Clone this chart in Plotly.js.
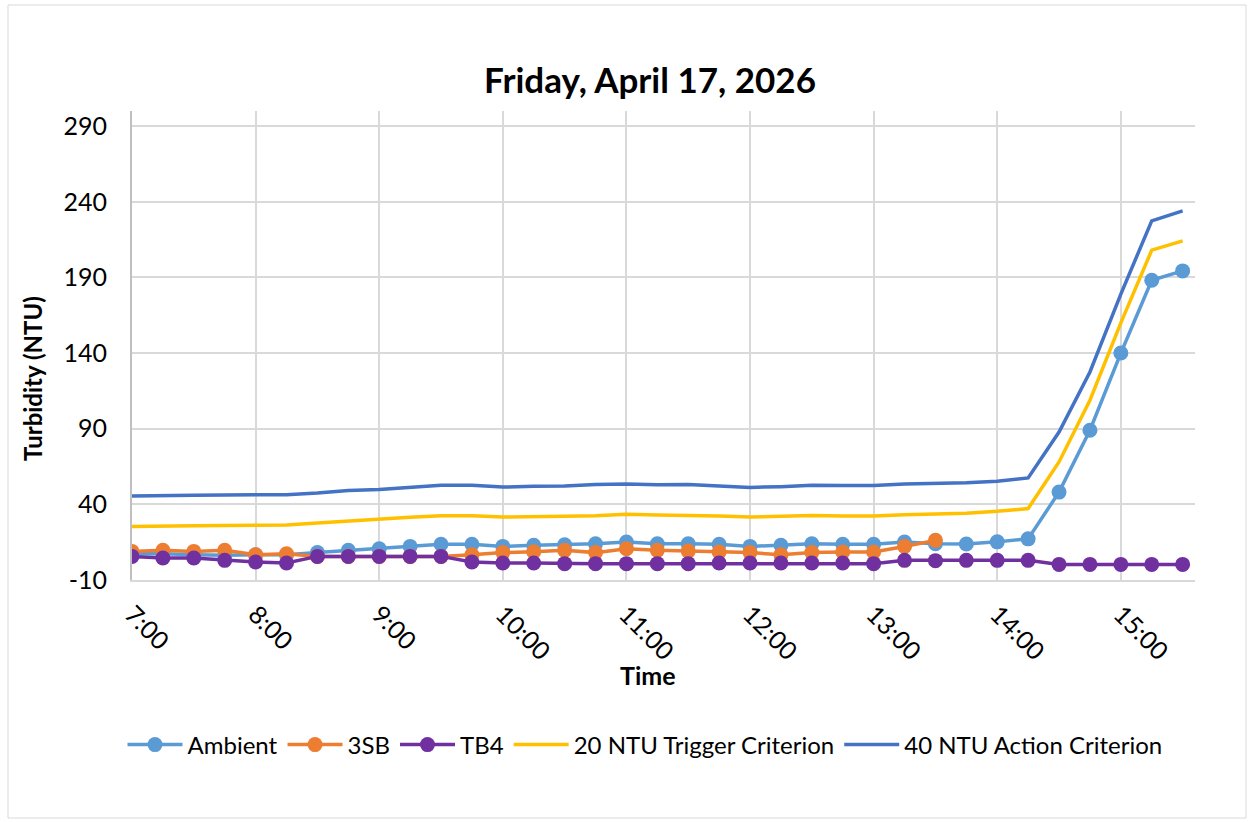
<!DOCTYPE html>
<html>
<head>
<meta charset="utf-8">
<script src="https://cdn.plot.ly/plotly-3.0.1.min.js"></script>
<style>
  html, body { margin: 0; padding: 0; background: #ffffff; }
  #chart { width: 1253px; height: 823px; }
</style>
</head>
<body>
<div id="chart"></div>
<script>
// ---- Data ----
const chartDate = "2026-04-17";
const times = ["7:00","7:15","7:30","7:45","8:00","8:15","8:30","8:45","9:00","9:15","9:30","9:45",
  "10:00","10:15","10:30","10:45","11:00","11:15","11:30","11:45","12:00","12:15","12:30","12:45",
  "13:00","13:15","13:30","13:45","14:00","14:15","14:30","14:45","15:00","15:15","15:30"];

const ambient = [7.4, 7.4, 6.7, 6.3, 6.7, 6.7, 8.1, 9.6, 10.7, 12.2, 13.6, 13.6, 12.2, 12.9, 13.3, 14.0,
  15.1, 14.0, 14.0, 13.6, 12.2, 12.9, 14.0, 13.6, 13.6, 15.1, 14.0, 13.8, 15.2, 17.2, 48.1, 89.0,
  140.0, 188.1, 194.3];

const sb3 = [8.9, 9.6, 8.9, 9.6, 6.7, 7.4, 5.6, 5.6, 5.6, 5.6, 5.6, 6.7, 8.1, 8.7, 9.6, 8.1, 10.7,
  9.6, 9.1, 8.5, 8.1, 6.7, 8.1, 8.5, 8.5, 12.2, 16.2];

const tb4 = [5.6, 4.5, 4.5, 3.0, 1.9, 1.2, 5.6, 5.6, 5.6, 5.6, 5.6, 1.9, 1.2, 1.2, 0.8, 0.8, 0.8, 0.8,
  0.8, 1.2, 1.2, 1.2, 1.2, 1.2, 0.8, 3.0, 2.8, 3.0, 3.0, 3.0, 0.3, 0.3, 0.3, 0.3, 0.3];

const trigger20 = [25.4, 25.4, 25.9, 26.1, 26.3, 26.3, 27.6, 29.0, 29.9, 31.4, 32.5, 32.5, 31.6, 32.1,
  32.1, 32.5, 33.4, 32.9, 32.7, 32.3, 31.6, 32.1, 32.7, 32.3, 32.3, 33.2, 33.6, 34.2, 35.4, 37.2,
  68.0, 108.8, 160.0, 208.0, 214.2];

const action40 = [45.5, 45.5, 46.0, 46.2, 46.4, 46.4, 47.5, 49.1, 49.9, 51.4, 52.6, 52.6, 51.4, 51.9,
  52.1, 53.1, 53.4, 53.0, 53.1, 52.1, 51.2, 51.7, 52.6, 52.4, 52.4, 53.4, 53.7, 54.2, 55.2, 57.5,
  87.8, 127.5, 179.0, 227.4, 234.0];

const seriesNames = ["Ambient", "3SB", "TB4", "20 NTU Trigger Criterion", "40 NTU Action Criterion"];
const xTickLabels = ["7:00","8:00","9:00","10:00","11:00","12:00","13:00","14:00","15:00"];
const yTickVals = [-10, 40, 90, 140, 190, 240, 290];

const chartTitle = "Friday, April 17, 2026";
const xTitle = "Time";
const yTitle = "Turbidity (NTU)";

// ---- Helpers ----
const toStamp = t => `${chartDate} ${t.padStart(5, "0")}`;
const xAll = times.map(toStamp);
const xSb3 = times.slice(0, sb3.length).map(toStamp);

const FONT = "Lato, 'Noto Sans', sans-serif";
const C = {
  ambient: "#5B9BD5",
  sb3: "#ED7D31",
  tb4: "#7030A0",
  trig: "#FFC000",
  act: "#4472C4"
};

function mk(name, x, y, color, markers) {
  const tr = {
    type: "scatter",
    mode: markers ? "lines+markers" : "lines",
    name: name,
    x: x,
    y: y,
    line: { color: color, width: 3.5 },
    hoverinfo: "x+y+name"
  };
  if (markers) tr.marker = { color: color, size: 15, line: { width: 0 } };
  return tr;
}

const traces = [
  mk(seriesNames[0], xAll, ambient, C.ambient, true),
  mk(seriesNames[1], xSb3, sb3, C.sb3, true),
  mk(seriesNames[2], xAll, tb4, C.tb4, true),
  mk(seriesNames[3], xAll, trigger20, C.trig, false),
  mk(seriesNames[4], xAll, action40, C.act, false)
];

const W = 1253, H = 823;
const L = 132, R = 1195, T = 111, B = 580;
const px2paperX = px => (px - L) / (R - L);
const px2paperY = py => (B - py) / (B - T);

const layout = {
  width: W,
  height: H,
  paper_bgcolor: "#ffffff",
  plot_bgcolor: "#ffffff",
  margin: { l: L, r: W - R, t: T, b: H - B, pad: 0 },
  font: { family: FONT, size: 24, color: "#000000" },
  title: {
    text: "<b>" + chartTitle + "</b>",
    font: { family: FONT, size: 35, color: "#000000" },
    xref: "container", yref: "container",
    x: 650 / W, xanchor: "center",
    y: 1 - 81 / H, yanchor: "middle"
  },
  showlegend: true,
  legend: {
    orientation: "h",
    xref: "container", yref: "container",
    x: 645 / W, xanchor: "center",
    y: 1 - 745 / H, yanchor: "middle",
    font: { family: FONT, size: 24, color: "#000000" },
    itemwidth: 55,
    traceorder: "normal",
    bgcolor: "rgba(0,0,0,0)"
  },
  xaxis: {
    type: "date",
    range: [toStamp("7:00"), `${chartDate} 15:36`],
    tickvals: xTickLabels.map(toStamp),
    ticktext: xTickLabels,
    tickangle: 45,
    tickfont: { family: FONT, size: 25, color: "#000000" },
    showgrid: true,
    gridcolor: "#d9d9d9",
    gridwidth: 2,
    showline: true,
    linecolor: "#d9d9d9",
    linewidth: 2,
    ticks: "",
    ticklabelstandoff: 8,
    zeroline: false,
    fixedrange: true
  },
  yaxis: {
    range: [-10, 300],
    tickvals: yTickVals,
    ticktext: yTickVals.map(String),
    tickfont: { family: FONT, size: 25, color: "#000000" },
    showgrid: true,
    gridcolor: "#d9d9d9",
    gridwidth: 2,
    showline: true,
    linecolor: "#bfbfbf",
    linewidth: 2,
    ticks: "",
    ticklabelstandoff: 18,
    zeroline: false,
    fixedrange: true
  },
  annotations: [
    {
      text: "<b>" + yTitle + "</b>",
      xref: "paper", yref: "paper",
      x: px2paperX(32), y: px2paperY(379),
      xanchor: "center", yanchor: "middle",
      textangle: -90,
      showarrow: false,
      font: { family: FONT, size: 24, color: "#000000" }
    },
    {
      text: "<b>" + xTitle + "</b>",
      xref: "paper", yref: "paper",
      x: px2paperX(648), y: px2paperY(675),
      xanchor: "center", yanchor: "middle",
      showarrow: false,
      font: { family: FONT, size: 25, color: "#000000" }
    }
  ],
  shapes: [
    {
      type: "rect",
      xref: "paper", yref: "paper",
      x0: px2paperX(8), x1: px2paperX(1246),
      y0: px2paperY(818), y1: px2paperY(5),
      line: { color: "#d9d9d9", width: 1 },
      fillcolor: "rgba(0,0,0,0)",
      layer: "below"
    }
  ]
};

Plotly.newPlot("chart", traces, layout, { displayModeBar: false, staticPlot: true });
</script>
</body>
</html>
